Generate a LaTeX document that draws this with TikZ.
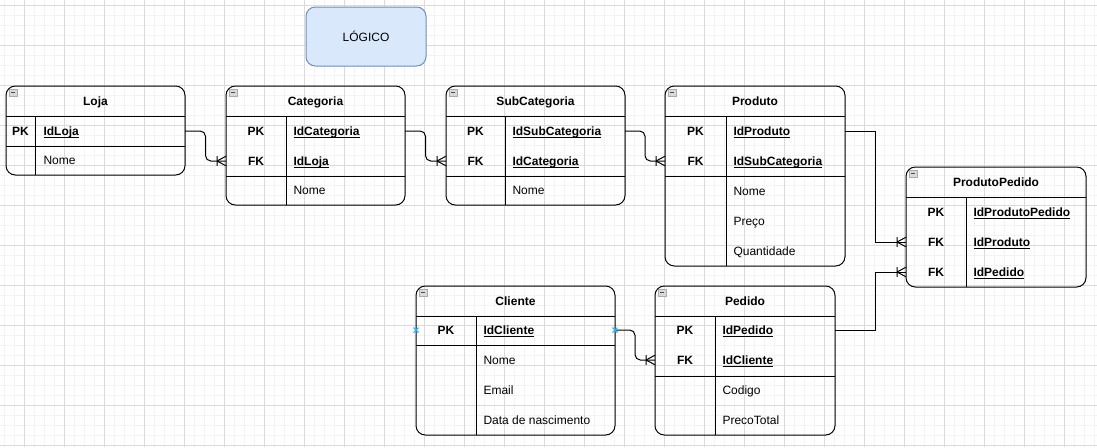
\documentclass[tikz,border=0pt]{standalone}
\usepackage{fontspec}
\setmainfont{Liberation Sans}
\usetikzlibrary{decorations.markings}
\definecolor{logfill}{HTML}{DAE8FC}
\definecolor{logdraw}{HTML}{6C8EBF}
\definecolor{hoverblue}{HTML}{29B6F2}
\definecolor{gridmaj}{HTML}{DADADA}
\definecolor{gridmin}{HTML}{F3F3F3}
\newcommand{\uln}[1]{\setbox0\hbox{#1}\rlap{\rule[-1.6pt]{\wd0}{0.6pt}}\box0}
\newcommand{\ertable}[8]{%
  \draw[tblframe] (#1,#2) rectangle (#3,#4);
  \draw (#1,#2+30) -- (#3,#2+30);
  \draw (#5,#2+30) -- (#5,#4);
  \draw (#1,#6) -- (#3,#6);
  \node[ttl] (#8) at ({(#1+#3)/2},#2+15.5) {#7};
  \draw[icon] (#1+3,#2+3) rectangle (#1+11,#2+10);
  \draw[icondash] (#1+5,#2+6.5) -- (#1+9,#2+6.5);
}
\newcommand{\rowanchor}[4]{%
  \node[rowbox, minimum width={(#3-#2)*0.75pt}] (#1) at ({(#2+#3)/2},#4) {};}
\tikzset{
  tblframe/.style={rounded corners=7pt},
  icon/.style={fill=gray!30, draw=gray!65, line width=0.5pt},
  icondash/.style={draw=black!70, line width=0.7pt},
  ttl/.style={font=\fontsize{9}{11}\selectfont\bfseries, inner sep=0pt, text height=1.5ex, text depth=.3ex},
  keytag/.style={font=\fontsize{9}{11}\selectfont\bfseries, inner sep=0pt, text height=1.5ex, text depth=.3ex},
  keyfld/.style={font=\fontsize{9}{11}\selectfont\bfseries, inner sep=0pt, anchor=west, text height=1.5ex, text depth=.3ex},
  fld/.style={font=\fontsize{9}{11}\selectfont, inner sep=0pt, anchor=west, text height=1.5ex, text depth=.3ex},
  rowbox/.style={inner sep=0pt, outer sep=0pt, minimum height=20pt},
  gridminor/.style={draw=gridmin, line width=0.75pt},
  gridmajor/.style={draw=gridmaj, line width=0.75pt},
  conn/.style={draw=black},
  erMany/.style={postaction={decorate, decoration={markings,
     mark=at position 1 with {\draw[line cap=butt] (-6.75pt,0pt) -- (0pt,3.6pt) (-6.75pt,0pt) -- (0pt,-3.6pt) (-6.75pt,-3.6pt) -- (-6.75pt,3.6pt);}}}},
  bluex/.style={draw=hoverblue, line width=0.8pt}
}
\begin{document}
\begin{tikzpicture}[x=0.75pt, y=-0.75pt, line width=0.75pt]
\useasboundingbox (0,0) rectangle (1097,447);
\fill[white] (0,0) rectangle (1097,447);
% grid
\foreach \gx in {4,14,...,1094} \draw[gridminor] (\gx,0) -- (\gx,447);
\foreach \gy in {5,15,...,445} \draw[gridminor] (0,\gy) -- (1097,\gy);
\foreach \gx in {24,64,...,1094} \draw[gridmajor] (\gx,0) -- (\gx,447);
\foreach \gy in {5,45,...,445} \draw[gridmajor] (0,\gy) -- (1097,\gy);

% title box
\node[draw=logdraw, fill=logfill, rounded corners=7pt, minimum width=90pt, minimum height=44.25pt,
      font=\fontsize{9}{11}\selectfont] (logico) at (366,36.5) {LÓGICO};

% Loja
\ertable{6}{86}{185}{175}{35}{146}{Loja}{lojaT}
\node[keytag] (lojaPKt) at (20.5,131) {PK};
\node[keyfld] (lojaId) at (43,131) {\uln{IdLoja}};
\node[fld] (lojaNome) at (43,160.5) {Nome};
\rowanchor{lojaPK}{6}{185}{131}

% Categoria
\ertable{226}{86}{405}{205}{286}{176}{Categoria}{catT}
\node[keytag] (catPKt) at (256,131) {PK};
\node[keyfld] (catId) at (293,131) {\uln{IdCategoria}};
\node[keytag] (catFKt) at (256,161) {FK};
\node[keyfld] (catLoja) at (293,161) {\uln{IdLoja}};
\node[fld] (catNome) at (293,190.5) {Nome};
\rowanchor{catPK}{226}{405}{131}
\rowanchor{catFK}{226}{405}{161}

% SubCategoria
\ertable{446}{86}{625}{205}{505}{176}{SubCategoria}{subT}
\node[keytag] (subPKt) at (475.5,131) {PK};
\node[keyfld] (subId) at (512,131) {\uln{IdSubCategoria}};
\node[keytag] (subFKt) at (475.5,161) {FK};
\node[keyfld] (subCat) at (512,161) {\uln{IdCategoria}};
\node[fld] (subNome) at (512,190.5) {Nome};
\rowanchor{subPK}{446}{625}{131}
\rowanchor{subFK}{446}{625}{161}

% Produto
\ertable{665}{86}{845}{266}{726}{176}{Produto}{prodT}
\node[keytag] (prodPKt) at (695.5,131) {PK};
\node[keyfld] (prodId) at (733,131) {\uln{IdProduto}};
\node[keytag] (prodFKt) at (695.5,161) {FK};
\node[keyfld] (prodSub) at (733,161) {\uln{IdSubCategoria}};
\node[fld] (prodNome) at (733,191) {Nome};
\node[fld] (prodPreco) at (733,221) {Preço};
\node[fld] (prodQtd) at (733,251) {Quantidade};
\rowanchor{prodPK}{665}{845}{131}
\rowanchor{prodFK}{665}{845}{161}

% ProdutoPedido
\ertable{906}{167}{1086}{287}{966}{197}{ProdutoPedido}{ppT}
\node[keytag] (ppPKt) at (936,212) {PK};
\node[keyfld] (ppId) at (973,212) {\uln{IdProdutoPedido}};
\node[keytag] (ppFK1t) at (936,242) {FK};
\node[keyfld] (ppProd) at (973,242) {\uln{IdProduto}};
\node[keytag] (ppFK2t) at (936,272) {FK};
\node[keyfld] (ppPed) at (973,272) {\uln{IdPedido}};
\rowanchor{ppFK1}{906}{1086}{242}
\rowanchor{ppFK2}{906}{1086}{272}

% Cliente
\ertable{416}{286}{615}{435}{476}{345}{Cliente}{cliT}
\node[keytag] (cliPKt) at (446,330) {PK};
\node[keyfld] (cliId) at (483,330) {\uln{IdCliente}};
\node[fld] (cliNome) at (483,360.5) {Nome};
\node[fld] (cliEmail) at (483,390) {Email};
\node[fld] (cliData) at (483,420) {Data de nascimento};
\rowanchor{cliPK}{416}{615}{330}

% Pedido
\ertable{655}{286}{835}{435}{715}{376}{Pedido}{pedT}
\node[keytag] (pedPKt) at (685,330) {PK};
\node[keyfld] (pedId) at (722,330) {\uln{IdPedido}};
\node[keytag] (pedFKt) at (685,360) {FK};
\node[keyfld] (pedCli) at (722,360) {\uln{IdCliente}};
\node[fld] (pedCod) at (722,390.5) {Codigo};
\node[fld] (pedTot) at (722,420) {PrecoTotal};
\rowanchor{pedPK}{655}{835}{330}
\rowanchor{pedFK}{655}{835}{360}

% connectors
\draw[conn, rounded corners=4pt, erMany] (lojaPK.east) -- ++(20.5,0) |- (catFK.west);
\draw[conn, rounded corners=4pt, erMany] (catPK.east) -- ++(20.5,0) |- (subFK.west);
\draw[conn, rounded corners=4pt, erMany] (subPK.east) -- ++(20,0) |- (prodFK.west);
\draw[conn, erMany] (prodPK.east) -- ++(30,0) |- (ppFK1.west);
\draw[conn, erMany] (pedPK.east) -- ++(40,0) |- (ppFK2.west);
\draw[conn, rounded corners=4pt, erMany] (cliPK.east) -- ++(20,0) |- (pedFK.west);

% hover markers
\draw[bluex] (413.5,327.5) -- (418.5,332.5) (413.5,332.5) -- (418.5,327.5);
\draw[bluex] (612.5,327.5) -- (617.5,332.5) (612.5,332.5) -- (617.5,327.5);
\end{tikzpicture}
\end{document}
